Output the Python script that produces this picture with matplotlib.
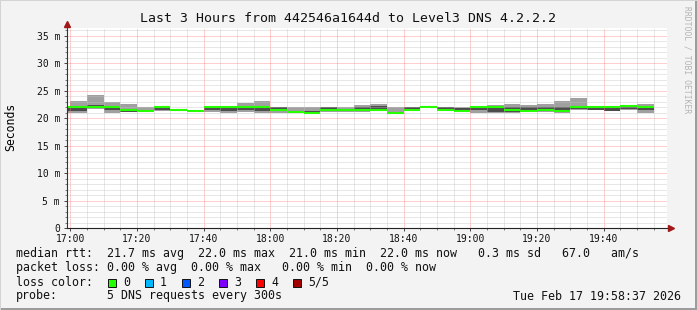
import matplotlib
matplotlib.use("Agg")
import matplotlib.pyplot as plt
from matplotlib.patches import Rectangle
import numpy as np

# horários de início de cada intervalo de 5 min
bin_start = ["16:55", "17:00", "17:05", "17:10", "17:15", "17:20", "17:25", "17:30", "17:35",
             "17:40", "17:45", "17:50", "17:55", "18:00", "18:05", "18:10", "18:15", "18:20",
             "18:25", "18:30", "18:35", "18:40", "18:45", "18:50", "18:55", "19:00", "19:05",
             "19:10", "19:15", "19:20", "19:25", "19:30", "19:35", "19:40", "19:45", "19:50"]

# pings ordenados (ms): p1 menor ... p5 maior, med = mediana
p1 = [21.0, 21.0, 21.7, 21.0, 21.1, 21.1, 21.4, 21.5, 21.3, 21.1, 21.0, 21.1, 21.05, 21.05,
      20.9, 20.9, 21.1, 21.2, 21.2, 21.35, 20.9, 21.3, 22.1, 21.4, 21.2, 21.0, 20.95, 21.05,
      21.1, 21.1, 21.05, 21.45, 21.5, 21.3, 21.6, 21.05]
p2 = [21.4, 21.4, 22.1, 21.5, 21.2, 21.3, 21.6, 21.5, 21.3, 21.5, 21.3, 21.6, 21.4, 21.5,
      21.0, 21.0, 21.3, 21.4, 21.5, 21.6, 21.0, 21.4, 22.1, 21.5, 21.3, 21.5, 21.1, 21.2,
      21.2, 21.4, 21.2, 21.7, 21.6, 21.4, 21.7, 21.5]
med = [22.05, 22.1, 22.15, 22.1, 21.45, 21.4, 22.1, 21.55, 21.35, 22.1, 22.1, 22.1, 22.1, 21.6,
       21.1, 21.05, 21.5, 21.6, 21.6, 21.6, 21.05, 21.5, 22.15, 21.6, 21.4, 22.05, 22.1, 21.55,
       21.4, 21.6, 21.4, 22.1, 22.1, 22.1, 22.2, 22.1]
p4 = [22.15, 22.3, 22.5, 22.2, 21.55, 21.6, 22.2, 21.6, 21.4, 22.2, 22.2, 22.2, 22.3, 22.1,
      21.4, 21.3, 22.1, 21.8, 22.0, 22.3, 21.2, 22.0, 22.2, 22.0, 21.9, 22.15, 22.2, 22.0,
      22.0, 22.1, 22.1, 22.3, 22.15, 22.2, 22.3, 22.2]
p5 = [22.2, 23.2, 24.3, 23.0, 22.6, 22.0, 22.2, 21.6, 21.4, 22.2, 22.2, 22.8, 23.2, 22.1,
      22.0, 22.0, 22.1, 22.0, 22.5, 22.6, 22.0, 22.0, 22.2, 22.0, 22.0, 22.15, 22.4, 22.6,
      22.4, 22.6, 23.2, 23.7, 22.15, 22.2, 22.45, 22.6]

x_ticks = ["17:00", "17:20", "17:40", "18:00", "18:20", "18:40", "19:00", "19:20", "19:40"]
y_ticks = [0, 5, 10, 15, 20, 25, 30, 35]

loss_labels = ["0", "1", "2", "3", "4", "5/5"]
loss_colors = ["#26ff00", "#00b8ff", "#0059ff", "#7e00ff", "#ff0000", "#a10000"]

title = "Last 3 Hours from 442546a1644d to Level3 DNS 4.2.2.2"
legend_lines = [
    "median rtt:  21.7 ms avg  22.0 ms max  21.0 ms min  22.0 ms now   0.3 ms sd   67.0   am/s",
    "packet loss: 0.00 % avg  0.00 % max   0.00 % min  0.00 % now",
]
probe_text = "5 DNS requests every 300s"
stamp = "Tue Feb 17 19:58:37 2026"

MONO = "DejaVu Sans Mono"
plt.rcParams["font.family"] = MONO

W, H = 697, 310


def fx(px):
    return px / W


def fy(py):
    return 1 - py / H


def to_min(s):
    h, m = s.split(":")
    return int(h) * 60 + int(m)


starts = np.array([to_min(s) for s in bin_start])
p1, p2, med, p4, p5 = map(np.array, (p1, p2, med, p4, p5))

fig = plt.figure(figsize=(W / 100, H / 100), dpi=100, facecolor="#f3f3f3")
ax = fig.add_axes([fx(67), fy(228.3), fx(667) - fx(67), 200 / H])
ax.set_facecolor("white")

# fumaça (smoke) e mediana
ax.bar(starts, p5 - p1, width=5, bottom=p1, align="edge", color="#a0a0a0", linewidth=0, zorder=1)
ax.bar(starts, p4 - p2, width=5, bottom=p2, align="edge", color="#4c4c4c", linewidth=0, zorder=1.1)
ax.hlines(med, starts, starts + 5, colors="#26ff00", linewidth=1.5, zorder=3)

ax.set_xlim(to_min("16:59"), to_min("19:59"))
ax.set_ylim(0, 36.4)

ax.set_xticks([to_min(t) for t in x_ticks])
ax.set_xticklabels(x_ticks)
ax.set_xticks(np.arange(to_min("17:00"), to_min("19:59"), 5), minor=True)
ax.set_yticks(y_ticks)
ax.set_yticklabels(["0" if v == 0 else f"{v} m" for v in y_ticks])
ax.set_yticks(np.arange(0, 37, 1), minor=True)

ax.tick_params(which="major", length=2, width=0.7, color="#444444", pad=3, labelsize=7, labelcolor="#111111")
ax.tick_params(which="minor", length=1.2, width=0.6, color="#666666")
ax.tick_params(axis="x", pad=2)

ax.set_axisbelow(False)
ax.grid(which="major", color="#ff8080", alpha=0.75, linestyle=(0, (1, 1)), linewidth=0.72)
ax.grid(which="minor", color="#c0c0c0", alpha=0.75, linestyle=(0, (1, 1)), linewidth=0.72)

for s in ax.spines.values():
    s.set_visible(False)

# eixos com setas
ax.plot([0, 0], [0, 1.02], transform=ax.transAxes, color="#333333", lw=0.8, clip_on=False, zorder=5)
ax.plot([0, 1.007], [0, 0], transform=ax.transAxes, color="#222222", lw=0.8, clip_on=False, zorder=5)
ax.plot([0], [1.024], transform=ax.transAxes, marker="^", color="#a01818", markersize=4.5,
        clip_on=False, zorder=6)
ax.plot([1.007], [0], transform=ax.transAxes, marker=">", color="#a01818", markersize=4.5,
        clip_on=False, zorder=6)

fig.text(fx(348), fy(19), title, ha="center", va="center", fontsize=9.5, color="#111111")
fig.text(fx(11), fy(127), "Seconds", rotation=90, ha="center", va="center", fontsize=8.3)
fig.text(fx(687), fy(60), "RRDTOOL / TOBI OETIKER", rotation=270, ha="center", va="center",
         fontsize=5.8, color="#b4b4b4")

# legenda
for i, line in enumerate(legend_lines):
    fig.text(fx(16), fy(254 + 14 * i), line, ha="left", va="center", fontsize=8.4, color="#111111")

fig.text(fx(16), fy(282), "loss color:", ha="left", va="center", fontsize=8.4, color="#111111")
for i, (lab, col) in enumerate(zip(loss_labels, loss_colors)):
    bx = 108 + 37 * i
    fig.add_artist(Rectangle((fx(bx), fy(286.5)), 8 / W, 8 / H, transform=fig.transFigure,
                             facecolor=col, edgecolor="#111111", linewidth=0.7))
    fig.text(fx(bx + 15), fy(282), lab, ha="left", va="center", fontsize=8.4, color="#111111")

fig.text(fx(16), fy(296), "probe:", ha="left", va="center", fontsize=8.4, color="#111111")
fig.text(fx(107), fy(296), probe_text, ha="left", va="center", fontsize=8.4, color="#111111")
fig.text(fx(681), fy(296), stamp, ha="right", va="center", fontsize=8.4, color="#111111")

# moldura
fig.add_artist(Rectangle((0, 0), 1, 2 / H, transform=fig.transFigure, color="#9c9c9c", lw=0))
fig.add_artist(Rectangle((1 - 2 / W, 0), 2 / W, 1, transform=fig.transFigure, color="#9c9c9c", lw=0))
fig.add_artist(Rectangle((0, 1 - 1 / H), 1, 1 / H, transform=fig.transFigure, color="#d4d4d4", lw=0))
fig.add_artist(Rectangle((0, 0), 1 / W, 1, transform=fig.transFigure, color="#d4d4d4", lw=0))

fig.savefig("out.png", dpi=100, facecolor=fig.get_facecolor())
